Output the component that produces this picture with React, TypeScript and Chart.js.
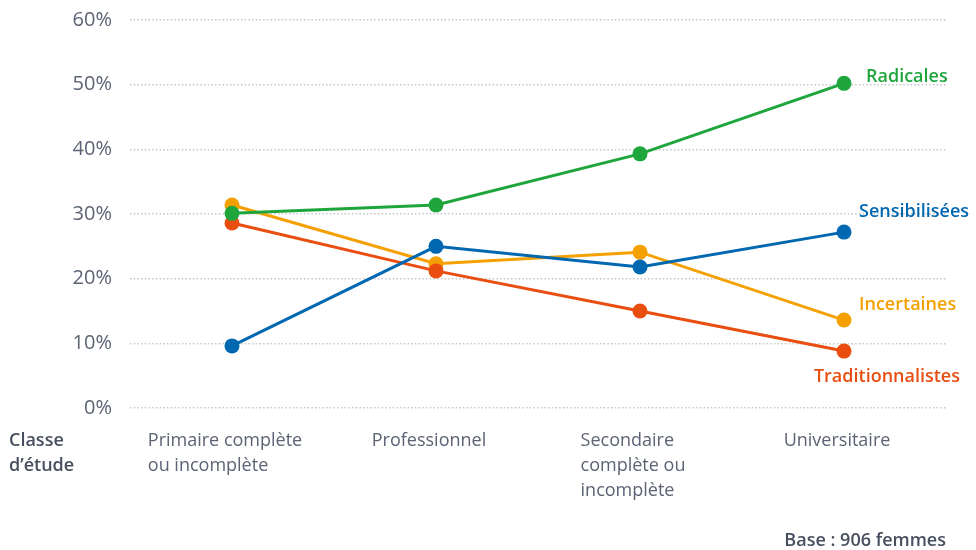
import React, { useEffect, useRef } from 'react';
import { Chart, registerables } from 'chart.js';

Chart.register(...registerables);

const categories: string[][] = [
  ['Primaire complète', 'ou incomplète'],
  ['Professionnel'],
  ['Secondaire', 'complète ou', 'incomplète'],
  ['Universitaire'],
];
const seriesNames = ['Radicales', 'Sensibilisées', 'Traditionnalistes', 'Incertaines'];
const radicales = [30.1, 31.4, 39.3, 50.2];
const sensibilisees = [9.6, 25.0, 21.8, 27.2];
const traditionnalistes = [28.6, 21.2, 15.0, 8.8];
const incertaines = [31.4, 22.3, 24.1, 13.6];
const seriesColors = ['#1ea53c', '#0067b1', '#e94e10', '#f4a000'];
const yMin = 0;
const yMax = 60;
const yStep = 10;
const axisTitle = ['Classe', 'd’étude'];
const baseNote = 'Base : 906 femmes';

const FONT = "'Open Sans', 'Noto Sans', sans-serif";
const TEXT_LIGHT = '#5b6374';
const TEXT_DARK = '#474f5f';

const textPlugin = {
  id: 'customText',
  afterDraw(chart: any) {
    const ctx = chart.ctx;
    const xs = chart.scales.x;
    const area = chart.chartArea;
    ctx.save();
    ctx.font = `400 18px ${FONT}`;
    ctx.fillStyle = TEXT_LIGHT;
    ctx.textAlign = 'left';
    ctx.textBaseline = 'middle';
    const firstLineY = area.bottom + 33;
    const lineH = 25;
    categories.forEach((lines, i) => {
      const px = xs.getPixelForValue(i);
      const w = Math.max(...lines.map((l) => ctx.measureText(l).width));
      const left = px - w / 2 - 7;
      lines.forEach((l, j) => ctx.fillText(l, left, firstLineY + j * lineH));
    });
    ctx.font = `600 18px ${FONT}`;
    ctx.fillStyle = TEXT_DARK;
    axisTitle.forEach((l, j) => ctx.fillText(l, 9, firstLineY + j * lineH));
    ctx.textAlign = 'right';
    ctx.fillText(baseNote, area.right, area.bottom + 133);
    const offsets = [
      { dx: 22, dy: -6, align: 'left' },
      { dx: 15, dy: -20, align: 'left' },
      { dx: 116, dy: 26, align: 'right' },
      { dx: 15, dy: -15, align: 'left' },
    ];
    ctx.font = `600 18px ${FONT}`;
    seriesNames.forEach((name, i) => {
      const meta = chart.getDatasetMeta(i);
      const pt = meta.data[meta.data.length - 1];
      const o = offsets[i];
      ctx.fillStyle = seriesColors[i];
      ctx.textAlign = o.align;
      ctx.fillText(name, pt.x + o.dx, pt.y + o.dy);
    });
    ctx.restore();
  },
};

export default function App() {
  const ref = useRef<HTMLCanvasElement>(null);
  useEffect(() => {
    document.body.style.margin = '0';
    const values = [radicales, sensibilisees, traditionnalistes, incertaines];
    const chart = new Chart(ref.current as HTMLCanvasElement, {
      type: 'line',
      data: {
        labels: categories.map((c) => c.join(' ')),
        datasets: seriesNames.map((name, i) => ({
          label: name,
          data: values[i],
          borderColor: seriesColors[i],
          backgroundColor: seriesColors[i],
          pointBackgroundColor: seriesColors[i],
          pointBorderWidth: 0,
          pointRadius: 7.5,
          pointHoverRadius: 7.5,
          borderWidth: 3,
          tension: 0,
          fill: false,
        })),
      },
      options: {
        responsive: false,
        animation: false,
        layout: { padding: { left: 0, right: 30, top: 20, bottom: 142 } },
        plugins: { legend: { display: false }, tooltip: { enabled: false } },
        scales: {
          x: {
            type: 'category',
            offset: true,
            display: false,
          },
          y: {
            min: yMin,
            max: yMax,
            afterFit: (s: any) => {
              s.width = 130;
              s.paddingTop = 0;
              s.paddingBottom = 0;
            },
            ticks: {
              stepSize: yStep,
              padding: 18,
              color: TEXT_LIGHT,
              font: { family: FONT, size: 20, weight: 400 },
              callback: (v: any) => `${v}%`,
            },
            grid: {
              color: '#c6c6c6',
              lineWidth: 1.5,
              drawTicks: false,
            },
            border: { display: false, dash: [1.5, 2.2] },
          },
        },
      },
      plugins: [textPlugin],
    });
    return () => chart.destroy();
  }, []);
  return (
    <div style={{ width: 976, height: 550 }}>
      <canvas ref={ref} width={976} height={550} />
    </div>
  );
}
